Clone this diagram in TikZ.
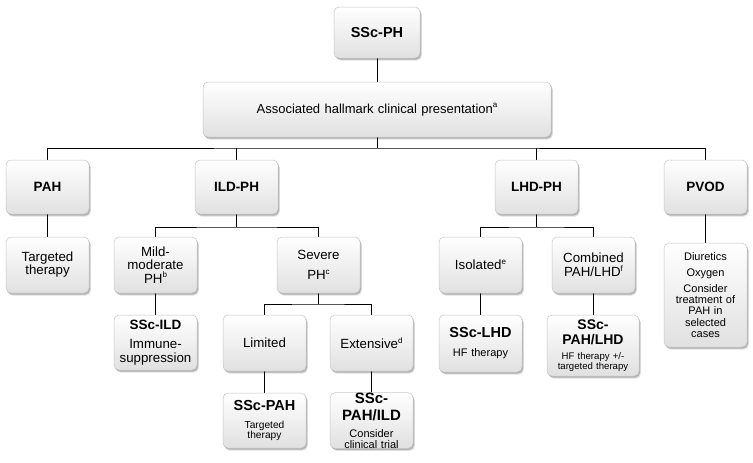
\documentclass[tikz,border=0pt]{standalone}
\usepackage{fontspec}
\setmainfont{Liberation Sans}
\usetikzlibrary{shadows}
\pgfdeclarelayer{paper}
\pgfdeclarelayer{bg}
\pgfsetlayers{paper,bg,main}
\newcommand\fsz[2]{\fontsize{#1}{#2}\selectfont}
\newcommand\supr[1]{\raisebox{0.42em}{\fontsize{8}{8}\selectfont #1}}
\lineskiplimit=-100pt
\begin{document}
\begin{tikzpicture}[x=1pt,y=-1pt,
  box/.style={draw=gray!45, line width=0.5pt, rounded corners=5pt,
    top color=white, bottom color=gray!24,
    drop shadow={shadow xshift=1.8pt, shadow yshift=-2.6pt, opacity=0.13, fill=black},
    drop shadow={shadow xshift=1pt, shadow yshift=-1.5pt, opacity=0.2, fill=black},
    align=center, inner sep=0pt, minimum width=83pt, minimum height=56pt, text width=80pt,
    font={\fsz{13.3}{13.5}}},
  title/.style={font={\fsz{13.5}{15}\bfseries}},
  conn/.style={line width=1pt, black}
]
\begin{pgfonlayer}{paper}
\fill[white] (0,0) rectangle (753,463);
\end{pgfonlayer}
\useasboundingbox (0,0) rectangle (753,463);

% level 0,1
\node[box, minimum width=86pt, minimum height=51pt, font={\fsz{14.5}{16}\bfseries}] (sscph) at (377,32.5) {SSc-PH};
\node[box, minimum width=348pt, minimum height=55pt, text width=340pt, font={\fsz{13}{15}}] (assoc) at (377,109.5) {Associated hallmark clinical presentation\supr{a}};

% level 2
\node[box, title, minimum height=54pt] (pah) at (47.5,187) {PAH};
\node[box, title, minimum height=54pt] (ild) at (236.5,187) {ILD-PH};
\node[box, title, minimum height=54pt] (lhd) at (536.5,187) {LHD-PH};
\node[box, title, minimum height=54pt] (pvod) at (705.5,187) {PVOD};

% level 3
\node[box, font={\fsz{13.3}{13}}] (tt) at (47.5,265) {Targeted\\therapy};
\node[box] (mild) at (155.5,265) {Mild-\\moderate\\PH\supr{b}};
\node[box] (sev) at (318.5,265) {Severe\\[6.5pt]PH\supr{c}};
\node[box] (iso) at (480.5,265) {Isolated\supr{e}};
\node[box, font={\fsz{13.3}{14}}] (comb) at (593.5,265) {Combined\\PAH/LHD\supr{f}};
\node[box, minimum height=104pt, font={\fsz{11}{11.3}}] (pvodd) at (705.5,295)
  {Diuretics\\[4.7pt]Oxygen\\[4.7pt]Consider\\treatment of\\PAH in\\selected\\cases};

% level 4
\node[box, minimum height=55pt, font={\fsz{13.3}{14}}] (ssild) at (155.5,342.5)
  {{\fsz{13.5}{15}\bfseries SSc-ILD}\\[5pt]Immune-\\suppression};
\node[box] (lim) at (264.5,343) {Limited};
\node[box] (ext) at (371.5,343) {Extensive\supr{d}};
\node[box, minimum height=57pt, font={\fsz{11}{12}}] (sslhd) at (480.5,343.5)
  {{\fsz{14.5}{16}\bfseries SSc-LHD}\\[7pt]HF therapy};
\node[box, minimum width=92pt, minimum height=61pt, text width=88pt, font={\fsz{9.6}{10}}] (sspl) at (593,345.5)
  {{\fsz{14}{15}\bfseries SSc-}\\[4pt]{\fsz{14}{15}\bfseries PAH/LHD}\\[5pt]HF therapy +/-\\targeted therapy};

% level 5
\node[box, minimum height=55pt, font={\fsz{10.2}{10.5}}] (sspah) at (264.5,420.5)
  {{\fsz{14.5}{15}\bfseries SSc-PAH}\\[7.5pt]Targeted\\therapy};
\node[box, minimum height=55pt, font={\fsz{11}{11}}] (sspi) at (371.5,420.5)
  {{\fsz{15}{16}\bfseries SSc-}\\[5pt]{\fsz{15}{16}\bfseries PAH/ILD}\\[6pt]Consider\\clinical trial};

% connectors
\begin{pgfonlayer}{bg}
\coordinate (bus1) at (377,148);
\coordinate (bus2) at (236.5,227);
\coordinate (bus3) at (318.5,304);
\coordinate (bus4) at (536.5,227);
\draw[conn] (sscph.south) -- (assoc.north);
\draw[conn] (assoc.south) -- (bus1);
\draw[conn] (pah.north) |- (bus1) -| (pvod.north);
\draw[conn] (ild.north) -- (ild.north |- bus1);
\draw[conn] (lhd.north) -- (lhd.north |- bus1);
\draw[conn] (ild.south) -- (bus2);
\draw[conn] (mild.north) |- (bus2) -| (sev.north);
\draw[conn] (sev.south) -- (bus3);
\draw[conn] (lim.north) |- (bus3) -| (ext.north);
\draw[conn] (lhd.south) -- (bus4);
\draw[conn] (iso.north) |- (bus4) -| (comb.north);
\draw[conn] (pah) -- (tt);
\draw[conn] (pvod) -- (pvodd);
\draw[conn] (mild) -- (ssild);
\draw[conn] (lim) -- (sspah);
\draw[conn] (ext) -- (sspi);
\draw[conn] (iso) -- (sslhd);
\draw[conn] (comb.south) -- (comb.south |- sspl.north);
\end{pgfonlayer}
\end{tikzpicture}
\end{document}
